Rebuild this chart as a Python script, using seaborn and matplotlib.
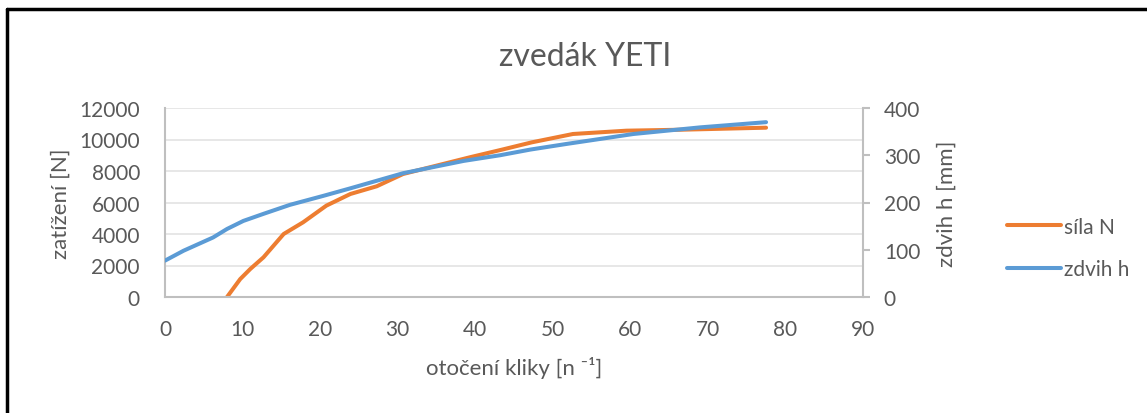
import matplotlib
matplotlib.use("Agg")
import matplotlib.pyplot as plt
import seaborn as sns
import pandas as pd
from matplotlib.lines import Line2D

# data
sila_x = [8, 9.7, 11, 12.7, 14, 15.3, 17.8, 20.8, 23.9, 27.3, 30.7, 35, 39.3, 43.4, 47.3, 52.6, 59.5, 66.4, 77.5]
sila_n = [0, 1140, 1780, 2520, 3260, 4000, 4740, 5800, 6540, 7030, 7810, 8340, 8870, 9350, 9820, 10350, 10560, 10620, 10750]
zdvih_x = [0, 2.4, 6.2, 8, 10.1, 12.7, 16.1, 20.4, 23.9, 30.7, 38.5, 43.2, 47.1, 51.8, 60.4, 69, 77.5]
zdvih_h = [77, 98, 126, 144, 161, 176, 195, 214, 230, 262, 288, 300, 312, 324, 345, 359, 370]
x_ticks = [0, 10, 20, 30, 40, 50, 60, 70, 80, 90]
left_ticks = [0, 2000, 4000, 6000, 8000, 10000, 12000]
right_ticks = [0, 100, 200, 300, 400]

df_sila = pd.DataFrame({"x": sila_x, "y": sila_n})
df_zdvih = pd.DataFrame({"x": zdvih_x, "y": zdvih_h})

sns.set_style("white")
plt.rcParams["font.family"] = ["Lato", "DejaVu Sans"]

orange = "#ED7D31"
blue = "#5B9BD5"
txt = "#595959"
axc = "#BFBFBF"

fig = plt.figure(figsize=(11.47, 4.14), dpi=100)
ax = fig.add_axes([165/1147, 1-298/414, (863-165)/1147, (298-109)/414])
ax2 = ax.twinx()

sns.lineplot(data=df_sila, x="x", y="y", ax=ax, color=orange, linewidth=2.9,
             solid_joinstyle="round", solid_capstyle="round")
sns.lineplot(data=df_zdvih, x="x", y="y", ax=ax2, color=blue, linewidth=2.9,
             solid_joinstyle="round", solid_capstyle="round")

ax.set_xlim(0, 90)
ax.set_ylim(0, 12000)
ax2.set_ylim(0, 400)
ax.set_xticks(x_ticks)
ax.set_yticks(left_ticks)
ax2.set_yticks(right_ticks)
ax.grid(axis="y", color="#E3E3E3", linewidth=1.2)
ax.set_axisbelow(True)

for a in (ax, ax2):
    for s in a.spines.values():
        s.set_visible(False)
ax.spines["left"].set_visible(True)
ax.spines["bottom"].set_visible(True)
ax2.spines["right"].set_visible(True)
for s in (ax.spines["left"], ax.spines["bottom"], ax2.spines["right"]):
    s.set_color(axc)
    s.set_linewidth(1.5)

ax.tick_params(axis="y", length=0, pad=18, labelsize=15, labelcolor=txt)
ax.tick_params(axis="x", length=0, pad=16, labelsize=15, labelcolor=txt)
ax2.tick_params(axis="y", length=5, width=1.5, color=axc, pad=10, labelsize=15, labelcolor=txt)

ax.set_xlabel("otočení kliky [n ⁻¹]", fontsize=16, color=txt, labelpad=12)
ax.set_ylabel("zatížení [N]", fontsize=16, color=txt, labelpad=6)
ax2.set_ylabel("zdvih h [mm]", fontsize=16, color=txt, labelpad=12)
fig.text(585/1147, 1-57/414, "zvedák YETI", fontsize=23, color=txt, ha="center", va="center")

handles = [Line2D([], [], color=orange, linewidth=2.9), Line2D([], [], color=blue, linewidth=2.9)]
fig.legend(handles, ["síla N", "zdvih h"], loc="center left",
           bbox_to_anchor=(988/1147, 1-249/414), frameon=False, fontsize=15,
           labelcolor=txt, handlelength=2.6, handletextpad=0.15, labelspacing=1.1)

# frame around the chart
fig.add_artist(Line2D([7/1147, 7/1147], [0, 1-10/414], color="black", linewidth=2.5, transform=fig.transFigure))
fig.add_artist(Line2D([7/1147, 1], [1-10/414, 1-10/414], color="black", linewidth=2.5, transform=fig.transFigure))

fig.savefig("out.png", dpi=100, facecolor="white")
